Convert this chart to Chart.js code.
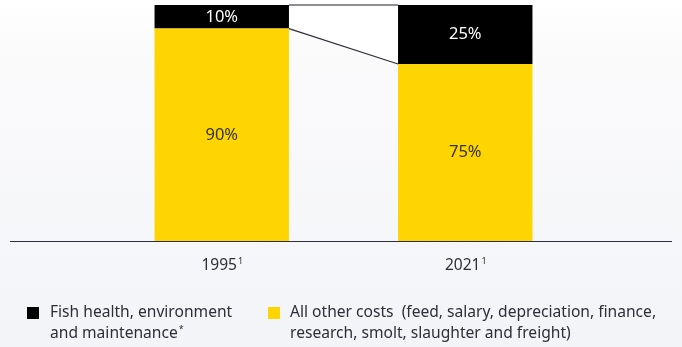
<!DOCTYPE html>
<html lang="en">
<head>
    <meta charset="UTF-8">
    <title>Cost split 1995 vs 2021</title>
    <style>
        html, body { margin: 0; padding: 0; }
        body {
            width: 682px;
            height: 347px;
            background: linear-gradient(to bottom, #ffffff 0px, #fbfbfc 40px, #f3f4f8 347px);
            font-family: "Noto Sans", Arial, sans-serif;
        }
        #wrap { position: relative; width: 682px; height: 347px; }
    </style>
    <script src="https://cdn.jsdelivr.net/npm/chart.js"></script>
</head>
<body>
    <div id="wrap"><canvas id="chart" width="682" height="347"></canvas></div>
    <script>
        const years = ['1995', '2021'];
        const yearNote = '1';
        const fishHealth = [10, 25];
        const otherCosts = [90, 75];
        const legendLines = [
            ['Fish health, environment', 'and maintenance*'],
            ['All other costs  (feed, salary, depreciation, finance,', 'research, smolt, slaughter and freight)']
        ];

        const YELLOW = '#ffd500';
        const BLACK = '#000000';
        const FONT = '"Noto Sans", Arial, sans-serif';

        // text with a small raised note after it, centred or left aligned
        function noteText(ctx, text, note, x, y, size, center) {
            ctx.font = size + 'px ' + FONT;
            const w = ctx.measureText(text).width;
            ctx.font = Math.round(size * 0.6) + 'px ' + FONT;
            const nw = ctx.measureText(note).width;
            const start = center ? x - (w + nw) / 2 : x;
            ctx.textAlign = 'left';
            ctx.font = size + 'px ' + FONT;
            ctx.fillText(text, start, y);
            ctx.font = Math.round(size * 0.6) + 'px ' + FONT;
            ctx.fillText(note, start + w + 1, y - size * 0.3);
        }

        // connector between bars, value labels, axis line, ticks and legend
        const extras = {
            id: 'extras',
            beforeDatasetsDraw(chart) {
                const ctx = chart.ctx;
                const a = chart.getDatasetMeta(0).data;
                const top = chart.scales.y.getPixelForValue(100);
                const x1 = a[0].x + a[0].width / 2;
                const x2 = a[1].x - a[1].width / 2;
                ctx.save();
                ctx.fillStyle = '#ffffff';
                ctx.beginPath();
                ctx.moveTo(x1, top);
                ctx.lineTo(x2, top);
                ctx.lineTo(x2, a[1].y);
                ctx.lineTo(x1, a[0].y);
                ctx.closePath();
                ctx.fill();
                ctx.strokeStyle = '#666a70';
                ctx.lineWidth = 1.5;
                ctx.beginPath();
                ctx.moveTo(x1, top);
                ctx.lineTo(x2, top);
                ctx.stroke();
                ctx.strokeStyle = '#2e2e38';
                ctx.lineWidth = 1.2;
                ctx.beginPath();
                ctx.moveTo(x1, a[0].y);
                ctx.lineTo(x2, a[1].y);
                ctx.stroke();
                ctx.restore();
            },
            afterDatasetsDraw(chart) {
                const ctx = chart.ctx;
                ctx.save();
                ctx.textAlign = 'center';
                ctx.textBaseline = 'middle';
                ctx.font = '16.5px ' + FONT;
                chart.data.datasets.forEach((ds, di) => {
                    chart.getDatasetMeta(di).data.forEach((bar, i) => {
                        const y = (bar.y + bar.base) / 2;
                        ctx.fillStyle = di === 0 ? '#333333' : '#ffffff';
                        ctx.fillText(ds.data[i] + '%', bar.x, y);
                    });
                });

                // axis line
                const base = chart.scales.y.getPixelForValue(0);
                ctx.strokeStyle = '#2e2e38';
                ctx.lineWidth = 1.2;
                ctx.beginPath();
                ctx.moveTo(10, base + 0.5);
                ctx.lineTo(672, base + 0.5);
                ctx.stroke();

                // category labels
                ctx.fillStyle = '#2e2e38';
                years.forEach((y, i) => {
                    noteText(ctx, y, yearNote, chart.scales.x.getPixelForValue(i), 266, 15.5, true);
                });

                // legend
                const items = [
                    { color: BLACK, sx: 27, tx: 50, lines: legendLines[0] },
                    { color: YELLOW, sx: 268, tx: 290, lines: legendLines[1] }
                ];
                items.forEach(it => {
                    ctx.fillStyle = it.color;
                    ctx.fillRect(it.sx, 307, 12, 12);
                    ctx.fillStyle = '#2e2e38';
                    it.lines.forEach((t, k) => {
                        const y = 312.5 + k * 21.5;
                        if (t.endsWith('*')) {
                            noteText(ctx, t.slice(0, -1), '*', it.tx, y, 15.6, false);
                        } else {
                            ctx.textAlign = 'left';
                            ctx.font = '15.6px ' + FONT;
                            ctx.fillText(t, it.tx, y);
                        }
                    });
                });
                ctx.restore();
            }
        };

        new Chart(document.getElementById('chart'), {
            type: 'bar',
            data: {
                labels: years,
                datasets: [
                    { label: 'All other costs', data: otherCosts, backgroundColor: YELLOW },
                    { label: 'Fish health, environment and maintenance', data: fishHealth, backgroundColor: BLACK }
                ]
            },
            options: {
                responsive: false,
                animation: false,
                layout: { padding: { left: 100, right: 95, top: 5, bottom: 106 } },
                datasets: { bar: { categoryPercentage: 1, barPercentage: 0.552 } },
                plugins: { legend: { display: false }, tooltip: { enabled: false } },
                scales: {
                    x: { stacked: true, display: false },
                    y: { stacked: true, display: false, min: 0, max: 100 }
                }
            },
            plugins: [extras]
        });
    </script>
</body>
</html>
